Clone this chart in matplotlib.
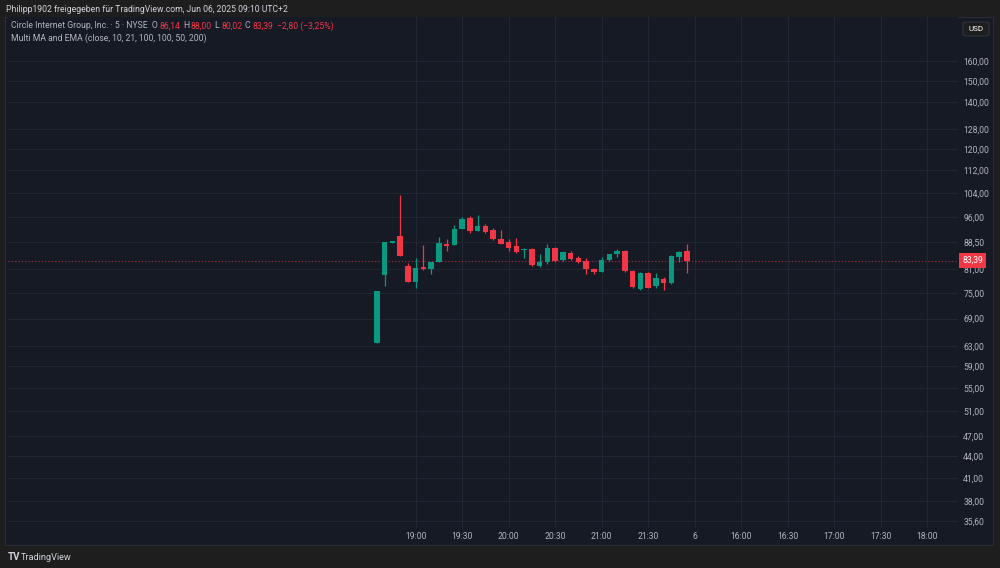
import matplotlib.pyplot as plt
from matplotlib.patches import Rectangle, FancyBboxPatch
import numpy as np

plt.rcParams['font.family'] = ['Roboto', 'DejaVu Sans']

# 5-min candles, 18:35 .. 21:55 (index 0 = 18:35)
opens = [63.7, 79.5, 88.4, 90.4, 81.9, 77.7, 81.5, 81.2, 82.9, 88.1,
         87.7, 92.4, 95.7, 91.9, 93.4, 92.1, 89.6, 88.6, 87.5, 86.2,
         86.7, 81.9, 83.0, 87.0, 83.5, 85.5, 84.0, 83.2, 81.1, 80.4,
         83.5, 85.1, 86.0, 80.6, 75.9, 80.0, 76.7, 78.6, 77.4, 84.4, 86.14]
highs = [75.6, 88.5, 88.6, 103.3, 82.6, 84.1, 87.6, 83.0, 90.1, 89.6,
         93.6, 96.2, 96.3, 96.8, 93.9, 92.6, 92.1, 89.6, 89.8, 86.8,
         86.9, 85.3, 88.0, 87.2, 86.0, 86.0, 84.7, 84.0, 81.4, 84.4,
         85.3, 86.5, 86.2, 80.8, 80.3, 80.2, 80.1, 78.9, 84.8, 86.0, 88.00]
lows = [63.7, 76.8, 88.3, 84.5, 77.8, 76.3, 80.8, 79.7, 82.9, 86.1,
        87.7, 92.4, 91.3, 91.9, 91.1, 89.2, 87.9, 86.0, 85.5, 84.1,
        82.0, 81.6, 82.5, 83.0, 83.3, 83.5, 82.8, 79.8, 79.8, 80.2,
        83.3, 84.4, 80.3, 76.2, 75.7, 76.3, 76.3, 75.7, 77.2, 82.9, 80.02]
closes = [75.6, 88.5, 88.5, 84.5, 77.8, 81.3, 81.2, 83.0, 88.3, 87.5,
          92.5, 95.5, 91.9, 93.4, 91.6, 89.5, 88.1, 87.0, 85.7, 86.6,
          82.3, 83.0, 87.0, 83.3, 85.8, 83.7, 83.0, 81.0, 80.4, 83.5,
          85.1, 86.0, 80.5, 76.4, 80.1, 76.3, 78.7, 77.4, 84.6, 85.8, 83.39]

time_ticks = [5, 11, 17, 23, 29, 35, 41, 47, 53, 59, 65, 71]
time_labels = ["19:00", "19:30", "20:00", "20:30", "21:00", "21:30", "6",
               "16:00", "16:30", "17:00", "17:30", "18:00"]
price_ticks = [35.6, 38, 41, 44, 47, 51, 55, 59, 63, 69, 75, 81, 88.5,
               96, 104, 112, 120, 128, 140, 150, 160]
last_price = 83.39

UP = "#089981"
DOWN = "#f23645"
PANE = "#161a25"
OUTER = "#1e1e1e"
GRID = "#222632"
TXT = "#b2b5be"
FS = 6.2

fig = plt.figure(figsize=(10, 5.68), dpi=100, facecolor=OUTER)
W, H = 1000, 568

def fx(px):
    return px / W

def fy(py):
    return 1 - py / H

# pane background incl. axis areas
fig.patches.append(Rectangle((fx(5), fy(545)), fx(988), 528 / H, transform=fig.transFigure,
                             facecolor=PANE, edgecolor="#2a2e39", lw=0.8, zorder=-5))

ax = fig.add_axes([fx(8), fy(528), fx(950), 511 / H])
ax.set_zorder(2)
ax.set_facecolor(PANE)
ax.set_yscale("log")
ax.set_xlim(-47.6, 75.0)
ax.set_ylim(34.8, 184.8)

for s in ax.spines.values():
    s.set_visible(False)

ax.set_yticks(price_ticks)
ax.set_yticklabels([f"{p:.2f}".replace(".", ",") for p in price_ticks])
ax.yaxis.set_minor_locator(plt.NullLocator())
ax.yaxis.tick_right()
ax.tick_params(axis="y", length=0, pad=3.8, labelsize=FS, labelcolor=TXT)
ax.set_xticks(time_ticks)
ax.set_xticklabels(time_labels)
ax.tick_params(axis="x", length=0, pad=3.0, labelsize=FS, labelcolor=TXT)
ax.grid(True, color=GRID, lw=0.8)
ax.set_axisbelow(True)

idx = np.arange(len(opens))
o = np.array(opens)
c = np.array(closes)
cols = [UP if cc >= oo else DOWN for oo, cc in zip(opens, closes)]
ax.vlines(idx, lows, highs, colors=cols, lw=0.9, zorder=3)
bottom = np.minimum(o, c)
height = np.maximum(np.abs(c - o), bottom * 0.004)
ax.bar(idx, height, bottom=bottom, width=0.72, color=cols, zorder=4)

# last price dotted line and label
ax.axhline(last_price, color=DOWN, lw=0.8, ls=(0, (1, 2)), alpha=0.7, zorder=2)
ax.annotate(f"{last_price:.2f}".replace(".", ","), xy=(1.0, last_price),
            xycoords=("axes fraction", "data"), xytext=(3, 0), textcoords="offset points",
            ha="left", va="center", fontsize=FS, color="white", annotation_clip=False,
            bbox=dict(boxstyle="square,pad=0.35", fc=DOWN, ec="none"), zorder=6)

# USD box
fig.patches.append(FancyBboxPatch((fx(963), fy(36)), fx(26), 14 / H, transform=fig.transFigure,
                                  boxstyle="round,pad=0,rounding_size=0.003",
                                  facecolor="#1e1e1e", edgecolor="#3a3d47", lw=0.6, zorder=-4))
fig.text(fx(976), fy(29), "USD", color="white", fontsize=5.8, ha="center", va="center")

# header
fig.text(fx(6), fy(9), "Philipp1902 freigegeben für TradingView.com, Jun 06, 2025 09:10 UTC+2",
         color="#d1d4dc", fontsize=FS, ha="left", va="center")
x0 = fx(11)
t = fig.text(x0, fy(26), "Circle Internet Group, Inc. · 5 · NYSE  O", color=TXT,
             fontsize=FS, ha="left", va="center")
parts = [("86,14", DOWN), ("H", TXT), ("88,00", DOWN), ("L", TXT), ("80,02", DOWN),
         ("C", TXT), ("83,39", DOWN), ("−2,80 (−3,25%)", DOWN)]
gaps = [1.8, 2.6, 1.8, 2.6, 1.8, 2.6, 1.8, 4]
fig.canvas.draw()
r = fig.canvas.get_renderer()
xe = t.get_window_extent(r).x1
for (s, col), g in zip(parts, gaps):
    tt = fig.text((xe + g) / W, fy(26), s, color=col, fontsize=FS, ha="left", va="center")
    xe = tt.get_window_extent(r).x1
fig.text(x0, fy(38), "Multi MA and EMA (close, 10, 21, 100, 100, 50, 200)", color=TXT,
         fontsize=FS, ha="left", va="center")

# footer logo
fig.text(fx(8), fy(557), "TV", color="#d1d4dc", fontsize=7, fontweight="bold",
         ha="left", va="center")
fig.text(fx(21), fy(557), "TradingView", color="#d1d4dc", fontsize=6.6,
         ha="left", va="center")

fig.savefig("out.png", dpi=100, facecolor=OUTER)
